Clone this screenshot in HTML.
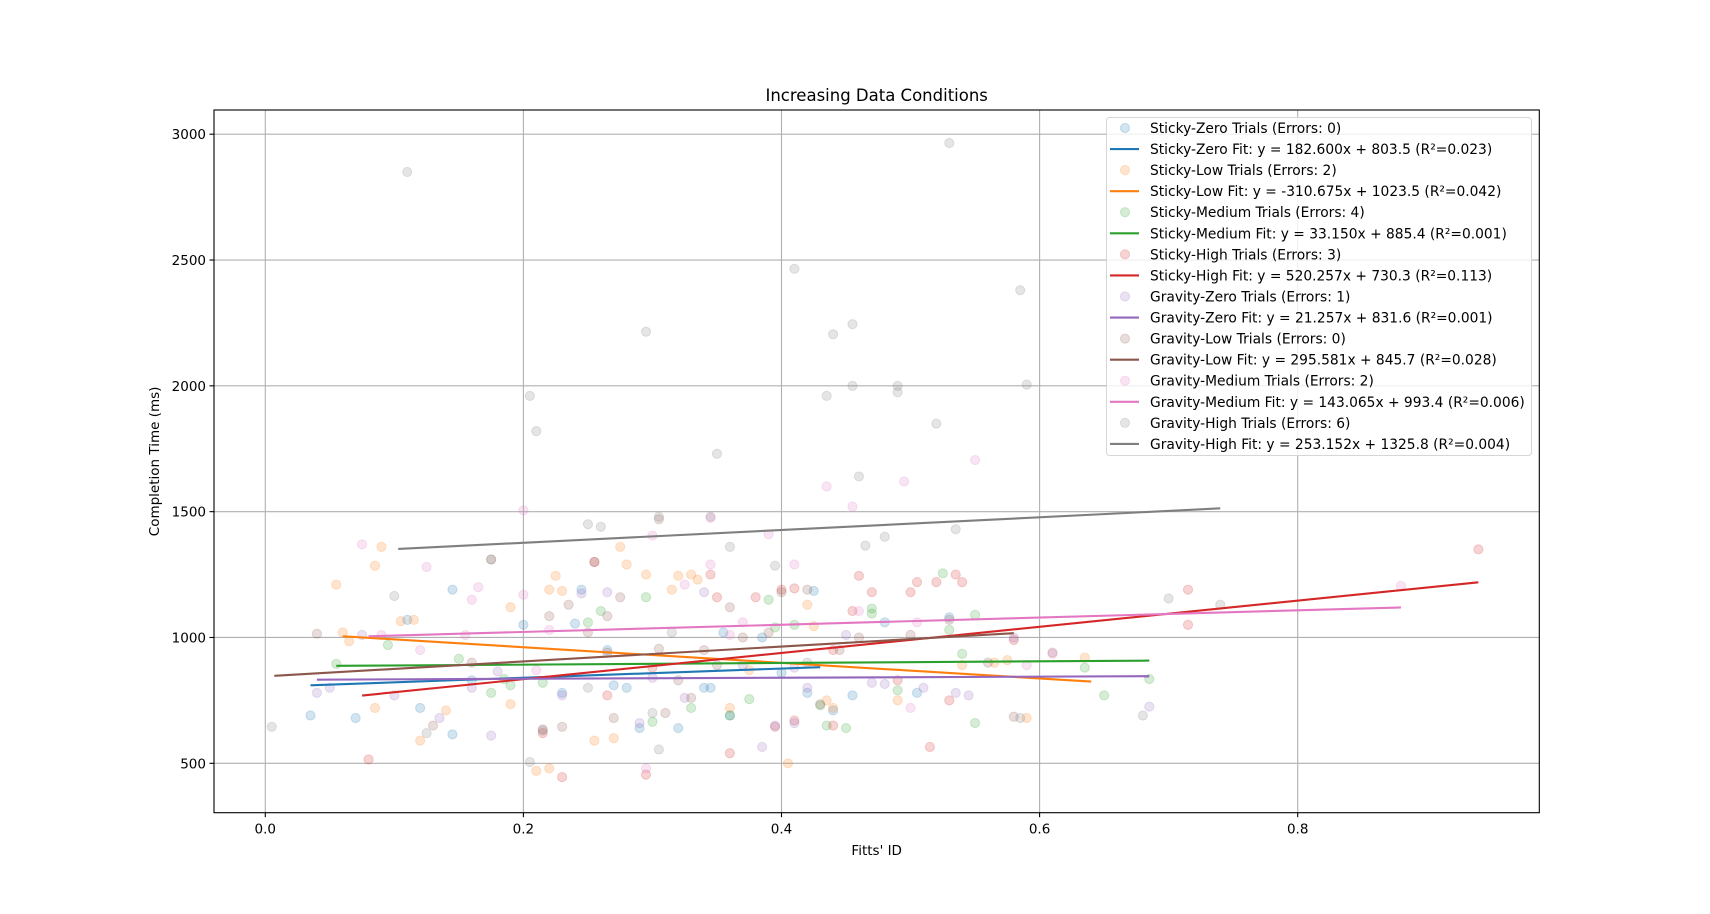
<!DOCTYPE html>
<html><head><meta charset="utf-8"><style>
html,body{margin:0;padding:0;background:#fff;}
svg{display:block;font-family:"DejaVu Sans","Liberation Sans",sans-serif;}
</style></head><body>
<svg id="chart" width="1710" height="914" viewBox="0 0 1710 914" xmlns="http://www.w3.org/2000/svg">
<rect width="1710" height="914" fill="#fff"/>
<g id="grid"></g>
<g id="marks"></g>
<rect x="214" y="110" width="1325.3" height="702.7" fill="none" stroke="#000" stroke-width="1.1"/>
<g id="ticks"></g>
<text x="876.7" y="101" text-anchor="middle" font-size="16.5">Increasing Data Conditions</text>
<text x="876.7" y="855" text-anchor="middle" font-size="13.5">Fitts' ID</text>
<text transform="translate(159,461.4) rotate(-90)" text-anchor="middle" font-size="13.5">Completion Time (ms)</text>
<g id="legend"></g>
</svg>
<script>
const seriesNames=["Sticky-Zero","Sticky-Low","Sticky-Medium","Sticky-High","Gravity-Zero","Gravity-Low","Gravity-Medium","Gravity-High"];
const colors=["#1f77b4","#ff7f0e","#2ca02c","#d62728","#9467bd","#8c564b","#e377c2","#7f7f7f"];
const errors=[0,2,4,3,1,0,2,6];
const slopes=[182.600,-310.675,33.150,520.257,21.257,295.581,143.065,253.152];
const intercepts=[803.5,1023.5,885.4,730.3,831.6,845.7,993.4,1325.8];
const r2=["0.023","0.042","0.001","0.113","0.001","0.028","0.006","0.004"];
const fitMin=[0.035,0.06,0.055,0.075,0.04,0.007,0.08,0.103];
const fitMax=[0.43,0.64,0.685,0.94,0.685,0.58,0.88,0.74];
const xTicks=[0.0,0.2,0.4,0.6,0.8];
const yTicks=[500,1000,1500,2000,2500,3000];
const xsSZ=[0.035,0.07,0.11,0.12,0.145,0.145,0.16,0.2,0.24,0.245,0.265,0.27,0.28,0.29,0.32,0.34,0.345,0.355,0.36,0.385,0.4,0.42,0.425,0.44,0.455,0.48,0.505,0.53,0.23];
const ysSZ=[690,680,1070,720,1190,615,830,1050,1055,1190,950,810,800,640,640,800,800,1020,690,1000,860,780,1185,710,770,1060,780,1080,780];
const xsSL=[0.055,0.085,0.09,0.105,0.115,0.06,0.065,0.12,0.14,0.19,0.22,0.225,0.23,0.275,0.28,0.32,0.33,0.335,0.315,0.295,0.21,0.22,0.255,0.27,0.36,0.375,0.405,0.42,0.425,0.435,0.44,0.49,0.54,0.565,0.575,0.59,0.635,0.085,0.19];
const ysSL=[1210,1285,1360,1065,1070,1020,985,590,710,1120,1190,1245,1185,1360,1290,1245,1250,1230,1190,1250,470,480,590,600,720,870,500,1130,1045,750,720,750,890,900,910,680,920,720,735];
const xsSM=[0.055,0.095,0.15,0.175,0.185,0.19,0.215,0.25,0.26,0.295,0.3,0.33,0.36,0.39,0.395,0.41,0.43,0.435,0.45,0.47,0.47,0.49,0.525,0.53,0.54,0.55,0.55,0.635,0.65,0.685,0.375];
const ysSM=[895,970,915,780,835,810,820,1060,1105,1160,665,720,690,1150,1040,1050,730,650,640,1095,1115,790,1255,1030,935,660,1090,880,770,835,755];
const xsSH=[0.94,0.715,0.715,0.535,0.54,0.52,0.505,0.455,0.46,0.41,0.38,0.35,0.255,0.345,0.08,0.23,0.295,0.215,0.4,0.5,0.44,0.36,0.41,0.515,0.47,0.58,0.53,0.395,0.44,0.49,0.3,0.265];
const ysSH=[1350,1190,1050,1250,1220,1220,1220,1105,1245,1195,1160,1160,1300,1250,515,445,455,620,1190,1180,650,540,670,565,1180,990,750,645,950,830,880,770];
const xsGZ=[0.04,0.075,0.1,0.135,0.16,0.175,0.18,0.23,0.245,0.265,0.29,0.3,0.325,0.34,0.37,0.385,0.395,0.41,0.41,0.42,0.45,0.47,0.48,0.51,0.535,0.545,0.685,0.58,0.05];
const ysGZ=[780,1010,770,680,800,610,865,770,1175,1180,660,840,760,1180,890,565,650,660,880,800,1010,820,815,800,780,770,725,1000,800];
const xsGL=[0.04,0.13,0.16,0.175,0.215,0.22,0.23,0.235,0.25,0.255,0.265,0.275,0.305,0.305,0.31,0.32,0.33,0.34,0.36,0.37,0.39,0.4,0.42,0.43,0.445,0.46,0.5,0.53,0.56,0.58,0.61,0.265,0.27,0.35];
const ysGL=[1015,650,900,1310,635,1085,645,1130,1020,1300,1085,1160,1470,955,700,830,760,950,1120,1000,1020,1180,1190,735,950,1000,1010,1070,900,685,940,940,680,890];
const xsGM=[0.075,0.09,0.125,0.155,0.16,0.165,0.2,0.2,0.21,0.22,0.3,0.325,0.345,0.345,0.36,0.39,0.41,0.435,0.455,0.46,0.495,0.505,0.55,0.61,0.88,0.37,0.12,0.5,0.59,0.295];
const ysGM=[1370,1010,1280,1010,1150,1200,1505,1170,870,1030,1405,1210,1290,1475,1010,1410,1290,1600,1520,1105,1620,1060,1705,935,1205,1060,950,720,890,480];
const xsGH=[0.11,0.53,0.41,0.295,0.44,0.455,0.585,0.59,0.205,0.435,0.455,0.49,0.49,0.21,0.52,0.35,0.46,0.535,0.345,0.305,0.1,0.175,0.25,0.26,0.48,0.7,0.74,0.68,0.005,0.215,0.3,0.205,0.305,0.36,0.465,0.395,0.315,0.125,0.585,0.42,0.25];
const ysGH=[2850,2965,2465,2215,2205,2245,2380,2005,1960,1960,2000,1975,2000,1820,1850,1730,1640,1430,1480,1480,1165,1310,1450,1440,1400,1155,1130,690,645,630,700,505,555,1360,1365,1285,1020,620,680,900,800];
const allX=[xsSZ,xsSL,xsSM,xsSH,xsGZ,xsGL,xsGM,xsGH];
const allY=[ysSZ,ysSL,ysSM,ysSH,ysGZ,ysGL,ysGM,ysGH];

const NS="http://www.w3.org/2000/svg";
const X0=265.3,KX=1290.5,Y500=763.3,KY=0.25164;
const L=214,R=1539.3,T=110,B=812.7;
function sx(v){return X0+v*KX;}
function sy(v){return Y500-(v-500)*KY;}
function mk(tag,attrs,parent){const e=document.createElementNS(NS,tag);for(const k in attrs)e.setAttribute(k,attrs[k]);parent.appendChild(e);return e;}
const grid=document.getElementById('grid'),marks=document.getElementById('marks'),ticks=document.getElementById('ticks'),legend=document.getElementById('legend');
xTicks.forEach(v=>{
  const g=mk('line',{x1:sx(v),x2:sx(v),y1:T,y2:B,stroke:'#b0b0b0','stroke-width':1.1},grid);
  
  
  mk('line',{x1:sx(v),x2:sx(v),y1:B,y2:B+4.5,stroke:'#000','stroke-width':1.1},ticks);
  const t=mk('text',{x:sx(v),y:B+21,'text-anchor':'middle','font-size':13.5},ticks);
  t.textContent=v.toFixed(1);
  
  
});
yTicks.forEach(v=>{
  const g=mk('line',{x1:L,x2:R,y1:sy(v),y2:sy(v),stroke:'#b0b0b0','stroke-width':1.1},grid);
  
  
  mk('line',{x1:L-4.5,x2:L,y1:sy(v),y2:sy(v),stroke:'#000','stroke-width':1.1},ticks);
  const t=mk('text',{x:L-8,y:sy(v)+5,'text-anchor':'end','font-size':13.5},ticks);
  t.textContent=String(v);
  
  
});
for(let s=0;s<8;s++){
  const g=mk('g',{},marks);
  
  
  for(let i=0;i<allX[s].length;i++){
    const c=mk('circle',{cx:sx(allX[s][i]),cy:sy(allY[s][i]),r:4.6,fill:colors[s],'fill-opacity':0.2,stroke:colors[s],'stroke-opacity':0.2},g);
    
    
  }
}
for(let s=0;s<8;s++){
  const a=fitMin[s],b=fitMax[s];
  const ln=mk('line',{x1:sx(a),y1:sy(slopes[s]*a+intercepts[s]),x2:sx(b),y2:sy(slopes[s]*b+intercepts[s]),stroke:colors[s],'stroke-width':2.1},marks);
  
  
}
const box=mk('rect',{x:1106.5,y:117.5,width:425,height:338,rx:3,fill:'#fff','fill-opacity':0.8,stroke:'#d6d6d6'},legend);


let row=0;
for(let s=0;s<8;s++){
  const y1=128+row*21.06;row++;
  const c=mk('circle',{cx:1125,cy:y1,r:4.6,fill:colors[s],'fill-opacity':0.2,stroke:colors[s],'stroke-opacity':0.2},legend);
  
  
  const t1=mk('text',{x:1150,y:y1+5,'font-size':13.8},legend);
  t1.textContent=seriesNames[s]+' Trials (Errors: '+errors[s]+')';
  
  
  const y2=128+row*21.06;row++;
  const l=mk('line',{x1:1110,x2:1139,y1:y2,y2:y2,stroke:colors[s],'stroke-width':2.1},legend);
  
  
  const sl=slopes[s].toFixed(3)+'x + '+intercepts[s].toFixed(1);
  const t2=mk('text',{x:1150,y:y2+5,'font-size':13.8},legend);
  t2.textContent=seriesNames[s]+' Fit: y = '+sl+' (R²='+r2[s]+')';
  
  
}
</script>
</body></html>
